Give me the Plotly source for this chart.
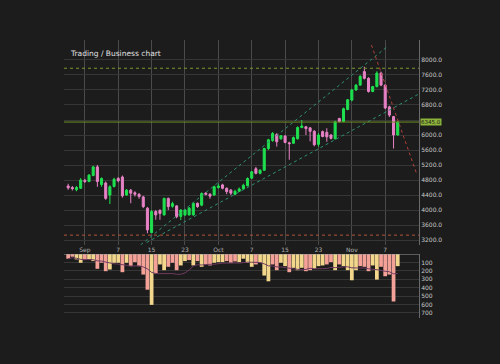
import plotly.graph_objects as go
import pandas as pd

# ---- data ----
opens = [4640, 4600, 4540, 4580, 4790, 4760, 4920, 5150, 4680, 4720,
         4400, 4630, 4840, 4880, 4400, 4530, 4460, 4420, 4350, 4050,
         3400, 3960, 3990, 3870, 4310, 4100, 4110, 3830, 3870, 3870,
         3870, 4180, 4130, 4450, 4420, 4400, 4600, 4670, 4580, 4530,
         4420, 4500, 4560, 4650, 4850, 5100, 4980, 5060, 5640, 5850,
         6010, 5900, 5970, 5790, 5780, 5900, 6200, 6220, 6190, 6100,
         5750, 6090, 6070, 6000, 5900, 6440, 6360, 6680, 6930, 7200,
         7330, 7690, 7510, 7160, 7290, 7650, 7330, 6750, 6490, 6000]
highs = [4700, 4640, 4640, 4850, 4830, 4960, 5180, 5200, 4870, 4760,
         4660, 4860, 4880, 4920, 4560, 4560, 4500, 4450, 4380, 4080,
         4000, 4000, 4020, 4330, 4330, 4220, 4130, 4020, 4030, 4080,
         4200, 4200, 4470, 4480, 4450, 4650, 4700, 4700, 4600, 4560,
         4540, 4600, 4700, 4870, 5040, 5150, 5090, 5660, 5900, 6080,
         6050, 6000, 6000, 5820, 5960, 6230, 6400, 6240, 6210, 6130,
         6050, 6120, 6180, 6020, 6380, 6460, 6730, 6960, 7230, 7360,
         7600, 7820, 7540, 7310, 7700, 7690, 7350, 6780, 6510, 6370]
lows = [4540, 4520, 4500, 4560, 4720, 4740, 4900, 4620, 4620, 4270,
        4160, 4600, 4740, 4330, 4380, 4180, 4360, 4300, 4050, 3380,
        3380, 3740, 3740, 3850, 4000, 4060, 3780, 3730, 3840, 3850,
        3850, 4060, 4100, 4390, 4300, 4380, 4570, 4550, 4420, 4400,
        4400, 4480, 4540, 4630, 4830, 4950, 4950, 5040, 5600, 5820,
        5690, 5870, 5780, 5340, 5760, 5880, 6180, 6000, 5830, 5700,
        5690, 5940, 5820, 5880, 5880, 6330, 6340, 6660, 6900, 7180,
        7310, 7480, 7130, 7140, 7270, 7300, 6690, 6480, 5640, 5990]
closes = [4590, 4570, 4600, 4800, 4760, 4930, 5150, 4760, 4840, 4310,
          4620, 4820, 4780, 4380, 4530, 4450, 4420, 4360, 4090, 3470,
          3960, 3870, 3910, 4310, 4090, 4170, 3820, 4000, 4000, 4050,
          4180, 4090, 4440, 4420, 4370, 4620, 4640, 4580, 4490, 4450,
          4500, 4560, 4660, 4840, 5020, 4980, 5060, 5640, 5870, 6040,
          5820, 5980, 5800, 5770, 5930, 6200, 6240, 6170, 6100, 5740,
          6000, 5960, 5950, 5910, 6350, 6360, 6700, 6940, 7200, 7330,
          7560, 7510, 7160, 7290, 7650, 7330, 6720, 6530, 6000, 6345]
volumes = [56, 32, 64, 104, 72, 64, 84, 176, 104, 204,
           184, 104, 104, 216, 104, 144, 96, 144, 244, 424,
           604, 232, 124, 192, 152, 104, 192, 136, 84, 72,
           136, 84, 152, 124, 136, 104, 96, 96, 84, 104,
           88, 96, 56, 104, 152, 124, 104, 256, 324, 124,
           192, 104, 144, 216, 164, 192, 164, 204, 192, 176,
           144, 136, 124, 96, 192, 124, 144, 192, 312, 192,
           144, 152, 204, 136, 304, 152, 264, 244, 564, 144]
# volume side: 1 = sell (salmon), 0 = buy (khaki)
vol_side = [1, 1, 0, 0, 1, 0, 0, 1, 1, 1,
            0, 0, 0, 1, 0, 1, 1, 1, 1, 1,
            0, 1, 0, 0, 1, 1, 1, 0, 0, 1,
            0, 1, 0, 1, 1, 0, 0, 0, 1, 1,
            1, 0, 0, 0, 0, 1, 0, 0, 0, 1,
            1, 0, 0, 1, 0, 0, 0, 1, 1, 0,
            0, 0, 1, 1, 0, 1, 0, 0, 0, 0,
            1, 1, 1, 0, 0, 1, 1, 1, 1, 0]
idx = list(range(len(closes)))
tick_pos = [4, 12, 20, 28, 36, 44, 52, 60, 68, 76]
tick_labels = ["Sep", "7", "15", "23", "Oct", "7", "15", "23", "Nov", "7"]
price_ticks = [3200, 3600, 4000, 4400, 4800, 5200, 5600, 6000, 6400, 6800, 7200, 7600, 8000]
vol_ticks = [100, 200, 300, 400, 500, 600, 700]
resistance_level = 7780
support_level = 3330
upper_channel_x = [14.0, 76.4]
upper_channel_y = [2770, 8347]
lower_channel_x = [18.8, 84.5]
lower_channel_y = [3133, 7120]
down_trend_x = [72.7, 83.5]
down_trend_y = [8400, 4979]

BG = "#1c1c1c"
vol_ma = pd.Series(volumes).rolling(10, min_periods=1).mean()

# price tick texts; the one hidden behind the last-price badge is left blank
price_ticktext = ["" if abs(v - closes[-1]) < 150 else f"{v:.1f}" for v in price_ticks]

fig = go.Figure()
fig.add_trace(go.Candlestick(
    x=idx, open=opens, high=highs, low=lows, close=closes,
    increasing=dict(line=dict(color="#1fe04f", width=1), fillcolor="#1fe04f"),
    decreasing=dict(line=dict(color="#e882c6", width=1), fillcolor="#e882c6"),
    whiskerwidth=0, xaxis="x", yaxis="y", showlegend=False))
fig.add_trace(go.Bar(
    x=idx, y=volumes,
    marker=dict(color=["#f4a198" if s else "#f2d68c" for s in vol_side], line=dict(width=0)),
    xaxis="x2", yaxis="y2", showlegend=False))
fig.add_trace(go.Scatter(x=idx, y=vol_ma, mode="lines",
                         line=dict(color="#6e3a5f", width=1),
                         xaxis="x2", yaxis="y2", showlegend=False))
# trend lines
for xs, ys, col in [(upper_channel_x, upper_channel_y, "#2f8f6f"),
                    (lower_channel_x, lower_channel_y, "#2f8f6f"),
                    (down_trend_x, down_trend_y, "#b0403a")]:
    fig.add_trace(go.Scatter(x=xs, y=ys, mode="lines",
                             line=dict(color=col, width=1, dash="dot"),
                             xaxis="x", yaxis="y", showlegend=False, cliponaxis=True))

shapes = [
    dict(type="line", xref="paper", x0=0, x1=1, yref="y", y0=resistance_level, y1=resistance_level,
         line=dict(color="#7a9a2a", width=1, dash="dot")),
    dict(type="line", xref="paper", x0=0, x1=1, yref="y", y0=closes[-1], y1=closes[-1],
         line=dict(color="#6f8f22", width=1)),
    dict(type="line", xref="paper", x0=0, x1=1, yref="y", y0=support_level, y1=support_level,
         line=dict(color="#b5533c", width=1, dash="dot")),
    dict(type="line", xref="paper", x0=0, x1=1, yref="y2", y0=0, y1=0,
         line=dict(color="#9a9a9a", width=1)),
]

fig.update_layout(
    width=500, height=364,
    margin=dict(l=64, r=81, t=40, b=46),
    paper_bgcolor=BG, plot_bgcolor=BG,
    bargap=0.1,
    shapes=shapes,
    xaxis=dict(domain=[0, 1], range=[-1, 84.1], anchor="y",
               tickmode="array", tickvals=tick_pos, ticktext=tick_labels,
               tickfont=dict(size=6, color="#b0b0b0", family="DejaVu Sans"),
               showgrid=True, gridcolor="#4a4a4a", gridwidth=1, zeroline=False,
               ticks="", ticklen=0, rangeslider=dict(visible=False), showline=False),
    yaxis=dict(domain=[0.2626, 1], range=[3067, 8533], side="right", anchor="x",
               tickmode="array", tickvals=price_ticks, ticktext=price_ticktext,
               tickfont=dict(size=6, color="#c8c8c8", family="DejaVu Sans"),
               showgrid=True, gridcolor="#363636", zeroline=False,
               showline=True, linecolor="#6a6a6a", ticks=""),
    xaxis2=dict(domain=[0, 1], range=[-1, 84.1], anchor="y2", matches="x",
                showticklabels=False, showgrid=False, zeroline=False, showline=False),
    yaxis2=dict(domain=[0, 0.2302], range=[760, 0], side="right", anchor="x2",
                tickmode="array", tickvals=vol_ticks,
                tickfont=dict(size=6, color="#c8c8c8", family="DejaVu Sans"),
                showgrid=True, gridcolor="#363636", zeroline=False,
                showline=True, linecolor="#6a6a6a", ticks=""),
    annotations=[
        dict(text="Trading / Business chart", xref="paper", yref="paper",
             x=0.011, y=0.95, xanchor="left", yanchor="middle", showarrow=False,
             font=dict(size=7.5, color="#e0e0e0", family="DejaVu Sans")),
        dict(text=f"{closes[-1]:.1f}", xref="paper", yref="y", x=1.0, y=closes[-1],
             xanchor="left", yanchor="middle", xshift=1, showarrow=False,
             bgcolor="#8db33a", borderpad=0,
             font=dict(size=5.5, color="#1a1a1a", family="DejaVu Sans")),
    ],
)

fig.write_html("out.html")
